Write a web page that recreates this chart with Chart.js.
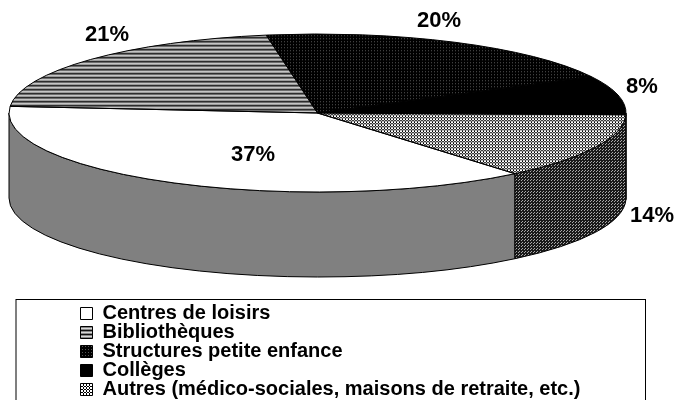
<!DOCTYPE html>
<html>
<head>
<meta charset="utf-8">
<style>
  html, body { margin: 0; padding: 0; background: #fff; overflow: hidden; }
  canvas { display: block; }
</style>
<script src="https://cdn.jsdelivr.net/npm/chart.js@4"></script>
</head>
<body>
<canvas id="myChart" width="674" height="400"></canvas>
<script>
const categories = [
  "Centres de loisirs",
  "Bibliothèques",
  "Structures petite enfance",
  "Collèges",
  "Autres (médico-sociales, maisons de retraite, etc.)"
];
// the labels show them rounded
const values = [37.4, 21, 20, 8, 13.6];

// where the percent labels sit, same order as categories
const labelX = [253, 107, 439, 642, 652];
const labelY = [155, 35, 21, 87, 216];

// the flattened pie on the page
const pie = { cx: 317.5, cy: 113, rx: 308.5, ry: 79, depth: 85 };
const frame = { left: 16, top: 299.5, right: 645.5, bottom: 420 };

// tiles: each char is one pixel, looked up in the colour map
function tile(rows, colours) {
  const c = document.createElement("canvas");
  c.width = rows[0].length;
  c.height = rows.length;
  const g = c.getContext("2d");
  rows.forEach((row, y) => {
    [...row].forEach((ch, x) => {
      g.fillStyle = colours[ch];
      g.fillRect(x, y, 1, 1);
    });
  });
  return g.createPattern(c, "repeat");
}

const ctx = document.getElementById("myChart").getContext("2d");

const stripes = tile(["l", "g", "k", "g"], { l: "#d8d8d8", g: "#888888", k: "#111111" });
const darkDots = tile(["kkk", "kgk", "kkk"], { k: "#000000", g: "#555555" });
const lightCheck = tile(["wwk", "wwk", "kkw"], { w: "#ffffff", k: "#000000" });
const darkCheck = tile(["kkg", "kkk", "gkk"], { k: "#1a1a1a", g: "#aaaaaa" });

const topFills = ["#ffffff", stripes, darkDots, "#000000", lightCheck];
const sideFills = ["#808080", stripes, darkDots, "#000000", darkCheck];
const patterns = [stripes, darkDots, lightCheck];

const flatPie = {
  id: "flatPie",
  beforeDatasetsDraw(chart) {
    const g = chart.ctx;
    const arcs = chart.getDatasetMeta(0).data;
    // side wall first, only the part that faces the viewer
    g.lineWidth = 1;
    g.strokeStyle = "#000";
    arcs.forEach((arc, i) => {
      const { startAngle, endAngle } = arc.getProps(["startAngle", "endAngle"]);
      for (let k = 0; k < 2; k++) {
        const lo = Math.max(startAngle, 2 * Math.PI * k);
        const hi = Math.min(endAngle, 2 * Math.PI * k + Math.PI);
        if (hi <= lo) continue;
        g.beginPath();
        g.ellipse(pie.cx, pie.cy, pie.rx, pie.ry, 0, lo, hi);
        g.ellipse(pie.cx, pie.cy + pie.depth, pie.rx, pie.ry, 0, hi, lo, true);
        g.closePath();
        g.fillStyle = sideFills[i];
        g.fill();
        g.stroke();
      }
    });
    // squash the library's round pie into the top ellipse
    const a = arcs[0];
    const sx = pie.rx / a.outerRadius;
    const sy = pie.ry / a.outerRadius;
    patterns.forEach(p => p.setTransform(new DOMMatrix().scale(1 / sx, 1 / sy)));
    g.save();
    g.translate(pie.cx, pie.cy);
    g.scale(sx, sy);
    g.translate(-a.x, -a.y);
  },
  afterDatasetsDraw(chart) {
    const g = chart.ctx;
    g.restore();
    patterns.forEach(p => p.setTransform(new DOMMatrix()));
    // outlines go here so the line width is not squashed
    g.lineWidth = 1;
    g.strokeStyle = "#000";
    chart.getDatasetMeta(0).data.forEach(arc => {
      g.beginPath();
      g.moveTo(pie.cx, pie.cy);
      g.ellipse(pie.cx, pie.cy, pie.rx, pie.ry, 0, arc.startAngle, arc.endAngle);
      g.closePath();
      g.stroke();
    });
  },
  afterLayout(chart) {
    // legend goes in its own frame under the pie
    const lg = chart.legend;
    const pad = lg.options.labels.padding;
    lg.left = 80.5 - pad;
    lg.right = frame.right;
    lg.top = 303.5 - pad;
    lg.bottom = 440;
    // negative padding puts the swatches just outside the legend's clip box
    lg.draw = () => lg._draw();
  },
  beforeDraw(chart) {
    const g = chart.ctx;
    g.save();
    g.strokeStyle = "#000";
    g.lineWidth = 1;
    g.strokeRect(frame.left, frame.top, frame.right - frame.left, frame.bottom - frame.top);
    g.restore();
  },
  afterDraw(chart) {
    const g = chart.ctx;
    g.save();
    g.fillStyle = "#000";
    g.font = "bold 22px 'Liberation Sans'";
    g.textAlign = "center";
    g.textBaseline = "middle";
    values.forEach((v, i) => g.fillText(Math.round(v) + "%", labelX[i], labelY[i]));
    g.restore();
  }
};

new Chart(ctx, {
  type: "pie",
  data: {
    labels: categories,
    datasets: [{
      data: values,
      backgroundColor: topFills,
      borderWidth: 0
    }]
  },
  options: {
    responsive: false,
    animation: false,
    rotation: 140.2,
    plugins: {
      tooltip: { enabled: false },
      legend: {
        position: "left",
        align: "start",
        labels: {
          color: "#000",
          boxWidth: 12,
          boxHeight: 12,
          padding: -1,
          font: { family: "'Liberation Sans'", size: 20, weight: "bold" },
          generateLabels(chart) {
            return Chart.overrides.pie.plugins.legend.labels.generateLabels(chart)
              .map(item => ({ ...item, lineWidth: 1, strokeStyle: "#000" }));
          }
        }
      }
    }
  },
  plugins: [flatPie]
});
</script>
</body>
</html>
